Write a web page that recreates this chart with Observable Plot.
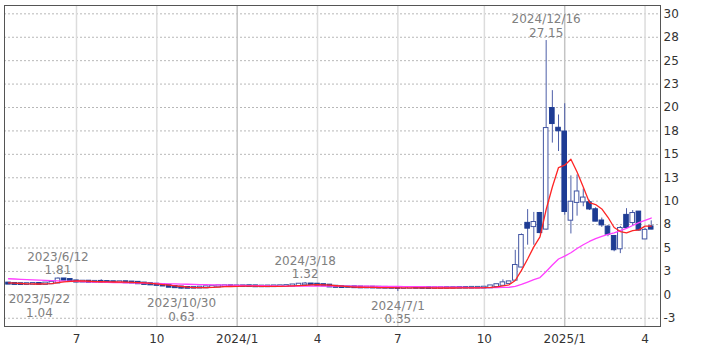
<!DOCTYPE html>
<html><head><meta charset="utf-8">
<script src="https://cdn.jsdelivr.net/npm/d3@7"></script>
<script src="https://cdn.jsdelivr.net/npm/@observablehq/plot@0.6"></script>
<style>
html,body{margin:0;padding:0;background:#fff;}
#chart svg{display:block;}
</style></head><body><div id="chart"></div>
<script>
// Weekly candles (week starting Monday)
const weeks = [
"2023-04-17","2023-04-24","2023-05-01","2023-05-08","2023-05-15","2023-05-22","2023-05-29",
"2023-06-05","2023-06-12","2023-06-19","2023-06-26","2023-07-03","2023-07-10","2023-07-17",
"2023-07-24","2023-07-31","2023-08-07","2023-08-14","2023-08-21","2023-08-28","2023-09-04",
"2023-09-11","2023-09-18","2023-09-25","2023-10-02","2023-10-09","2023-10-16","2023-10-23",
"2023-10-30","2023-11-06","2023-11-13","2023-11-20","2023-11-27","2023-12-04","2023-12-11",
"2023-12-18","2023-12-25","2024-01-01","2024-01-08","2024-01-15","2024-01-22","2024-01-29",
"2024-02-05","2024-02-12","2024-02-19","2024-02-26","2024-03-04","2024-03-11","2024-03-18",
"2024-03-25","2024-04-01","2024-04-08","2024-04-15","2024-04-22","2024-04-29","2024-05-06",
"2024-05-13","2024-05-20","2024-05-27","2024-06-03","2024-06-10","2024-06-17","2024-06-24",
"2024-07-01","2024-07-08","2024-07-15","2024-07-22","2024-07-29","2024-08-05","2024-08-12",
"2024-08-19","2024-08-26","2024-09-02","2024-09-09","2024-09-16","2024-09-23","2024-09-30",
"2024-10-07","2024-10-14","2024-10-21","2024-10-28","2024-11-04","2024-11-11","2024-11-18",
"2024-11-25","2024-12-02","2024-12-09","2024-12-16","2024-12-23","2024-12-30","2025-01-06",
"2025-01-13","2025-01-20","2025-01-27","2025-02-03","2025-02-10","2025-02-17","2025-02-24",
"2025-03-03","2025-03-10","2025-03-17","2025-03-24","2025-03-31","2025-04-07","2025-04-14"];

const open = [
1.22,1.18,1.15,1.14,1.16,1.18,1.15,1.22,1.30,1.66,1.60,1.45,1.40,1.42,1.38,1.40,1.38,1.36,1.35,1.36,
1.33,1.30,1.22,1.15,1.10,1.05,0.98,0.85,0.80,0.75,0.74,0.76,0.78,0.82,0.88,0.92,0.93,0.92,0.92,0.93,
0.92,0.90,0.90,0.91,0.92,0.93,0.95,1.02,1.10,1.12,1.10,1.05,1.00,0.88,0.84,0.82,0.82,0.80,0.78,0.78,
0.77,0.76,0.75,0.74,0.72,0.74,0.75,0.74,0.73,0.72,0.72,0.73,0.74,0.74,0.75,0.75,0.76,0.76,0.78,0.92,
1.05,1.25,1.60,3.00,7.60,7.32,8.65,7.05,19.86,17.75,17.35,8.00,9.90,9.95,9.80,9.05,7.85,7.20,6.20,4.95,
8.45,7.75,8.80,6.00,7.22];

const high = [
1.28,1.24,1.19,1.20,1.22,1.22,1.27,1.34,1.81,1.72,1.64,1.50,1.46,1.46,1.44,1.62,1.42,1.40,1.40,1.40,
1.37,1.34,1.26,1.19,1.14,1.08,1.01,0.89,0.83,0.79,0.80,0.82,0.86,0.92,0.96,0.97,0.97,0.96,0.97,0.97,
0.95,0.94,0.95,0.96,0.97,0.99,1.08,1.20,1.32,1.18,1.14,1.08,1.03,0.92,0.88,0.86,0.86,0.84,0.82,0.81,
0.80,0.79,0.78,0.77,0.78,0.79,0.78,0.77,0.76,0.76,0.77,0.78,0.78,0.79,0.79,0.80,0.80,0.82,0.98,1.12,
1.60,1.45,4.75,6.50,9.10,8.80,8.80,27.15,21.80,19.20,20.40,12.70,12.80,11.30,10.10,9.30,8.20,7.40,6.30,7.30,
9.20,9.00,8.90,7.10,7.90];

const low = [
1.13,1.11,1.10,1.10,1.12,1.04,1.12,1.18,1.26,1.54,1.40,1.36,1.36,1.34,1.34,1.34,1.32,1.31,1.31,1.29,
1.26,1.18,1.11,1.06,1.00,0.93,0.80,0.75,0.63,0.70,0.71,0.73,0.75,0.79,0.85,0.89,0.88,0.88,0.89,0.88,
0.86,0.86,0.87,0.88,0.89,0.90,0.92,0.98,1.05,1.06,1.01,0.96,0.84,0.80,0.78,0.78,0.76,0.74,0.74,0.73,
0.72,0.71,0.70,0.35,0.69,0.71,0.70,0.69,0.68,0.68,0.69,0.70,0.70,0.71,0.71,0.72,0.72,0.73,0.76,0.89,
1.02,1.20,1.50,2.90,5.30,5.30,6.50,6.90,16.20,15.30,8.50,6.50,8.40,9.40,9.00,7.80,7.20,6.20,4.60,4.40,
7.00,7.40,6.80,5.90,6.95];

const close = [
1.18,1.15,1.14,1.16,1.18,1.15,1.22,1.30,1.65,1.60,1.45,1.40,1.42,1.38,1.40,1.38,1.36,1.35,1.36,1.33,
1.30,1.22,1.15,1.10,1.05,0.98,0.85,0.80,0.75,0.74,0.76,0.78,0.82,0.88,0.92,0.93,0.92,0.92,0.93,0.92,
0.90,0.90,0.91,0.92,0.93,0.95,1.02,1.10,1.12,1.10,1.05,1.00,0.88,0.84,0.82,0.82,0.80,0.78,0.78,0.77,
0.76,0.75,0.74,0.72,0.74,0.75,0.74,0.73,0.72,0.72,0.73,0.74,0.74,0.75,0.75,0.76,0.76,0.78,0.92,1.05,
1.25,1.35,3.10,6.30,7.15,7.69,6.68,17.72,18.32,17.55,8.93,9.85,10.95,10.30,9.20,7.90,7.50,6.50,4.85,7.05,
7.22,8.65,6.95,6.85,7.05];

// 5-week moving average (red)
const ma5 = [
1.28,1.25,1.21,1.18,1.16,1.16,1.17,1.20,1.30,1.38,1.44,1.48,1.50,1.45,1.41,1.40,1.39,1.37,1.37,1.36,
1.34,1.31,1.27,1.22,1.16,1.10,1.03,0.96,0.89,0.82,0.78,0.77,0.77,0.80,0.83,0.87,0.89,0.91,0.92,0.92,
0.92,0.91,0.91,0.91,0.91,0.92,0.95,0.98,1.02,1.06,1.08,1.07,1.03,0.97,0.92,0.87,0.83,0.81,0.80,0.79,
0.78,0.77,0.76,0.75,0.74,0.74,0.74,0.74,0.74,0.73,0.73,0.73,0.73,0.74,0.74,0.75,0.75,0.76,0.79,0.85,
0.95,1.07,1.53,2.61,3.83,5.12,6.18,9.11,11.51,13.59,13.84,14.47,13.12,11.52,9.85,9.64,9.17,8.28,7.19,6.76,
6.62,6.85,6.94,7.34,7.34];

// 26-week moving average (magenta)
const ma26 = [
1.72,1.69,1.66,1.63,1.60,1.57,1.54,1.51,1.49,1.47,1.45,1.43,1.41,1.39,1.37,1.35,1.33,1.31,1.30,1.28,
1.27,1.25,1.24,1.22,1.21,1.19,1.18,1.16,1.15,1.13,1.12,1.10,1.09,1.07,1.06,1.04,1.03,1.01,1.00,0.99,
0.98,0.97,0.96,0.95,0.94,0.93,0.92,0.92,0.92,0.92,0.92,0.92,0.92,0.92,0.92,0.92,0.92,0.92,0.92,0.92,
0.91,0.91,0.90,0.89,0.88,0.88,0.87,0.87,0.86,0.85,0.84,0.83,0.82,0.81,0.80,0.78,0.77,0.76,0.77,0.77,
0.79,0.81,0.90,1.11,1.36,1.62,1.85,2.50,3.18,3.83,4.14,4.49,4.95,5.35,5.70,6.00,6.25,6.45,6.62,6.85,
7.10,7.40,7.70,7.95,8.20];

// Axis ticks
const xTickWeeks  = ["2023-07-03","2023-10-02","2024-01-01","2024-04-01","2024-07-01","2024-10-07","2025-01-06","2025-04-07"];
const xTickLabels = ["7","10","2024/1","4","7","10","2025/1","4"];
const yTickValues = [-2.5,0,2.5,5,7.5,10,12.5,15,17.5,20,22.5,25,27.5,30];
const yTickLabels = ["-3","0","3","5","8","10","13","15","18","20","23","25","28","30"];

// High / low annotations
const annotWeeks  = ["2023-05-22","2023-06-12","2023-10-30","2024-03-18","2024-07-01","2024-12-16"];
const annotValues = [1.04,1.81,0.63,1.32,0.35,27.15];
const annotKinds  = ["low","high","low","high","low","high"];

const weekIndex = new Map(weeks.map((w, i) => [w, i]));
const rows = weeks.map((w, i) => ({
  i, week: w, open: open[i], high: high[i], low: low[i], close: close[i],
  ma5: ma5[i], ma26: ma26[i], up: close[i] >= open[i]
}));
const fmtDate = s => { const [y, m, d] = s.split("-"); return `${+y}/${+m}/${+d}`; };
const annots = annotWeeks.map((w, k) => ({
  i: weekIndex.get(w), v: annotValues[k], kind: annotKinds[k],
  label: fmtDate(w) + "\n" + annotValues[k].toFixed(2)
}));
const xTickIdx = xTickWeeks.map(w => weekIndex.get(w));
const xLabelMap = new Map(xTickIdx.map((t, k) => [t, xTickLabels[k]]));
const yLabelMap = new Map(yTickValues.map((t, k) => [t, yTickLabels[k]]));
const yearTicks = xTickIdx.filter((t, k) => xTickLabels[k].includes("/"));
const monthTicks = xTickIdx.filter((t, k) => !xTickLabels[k].includes("/"));

const wick = "#4d5ea8", dark = "#1e3c94", hollow = "#4356a3";

const chart = Plot.plot({
  width: 709, height: 354,
  marginLeft: 4, marginRight: 49, marginTop: 5, marginBottom: 28,
  style: {fontFamily: "'DejaVu Sans', Verdana, sans-serif", fontSize: "12px", background: "#fff", color: "#333"},
  x: {type: "linear", domain: [-0.65, 105.5]},
  y: {domain: [-3.38, 30.89]},
  marks: [
    Plot.gridY(yTickValues, {stroke: "#b8b8b8", strokeOpacity: 1, strokeDasharray: "2,2"}),
    Plot.gridX(monthTicks, {stroke: "#dcdcdc", strokeOpacity: 1, strokeWidth: 1.5}),
    Plot.gridX(yearTicks, {stroke: "#c4c4c4", strokeOpacity: 1, strokeWidth: 1.5}),
    Plot.axisX(xTickIdx, {tickSize: 0, tickPadding: 8, tickFormat: d => xLabelMap.get(d), label: null, fill: "#333", fontSize: 12}),
    Plot.axisY(yTickValues, {anchor: "right", tickSize: 0, tickPadding: 3, tickFormat: d => yLabelMap.get(d), label: null, fill: "#333", fontSize: 12}),
    Plot.ruleX(rows, {x: "i", y1: "low", y2: "high", stroke: wick, strokeWidth: 1}),
    Plot.rect(rows.filter(d => !d.up), {x1: d => d.i - 0.37, x2: d => d.i + 0.37, y1: "open", y2: "close", insetTop: -0.8, insetBottom: -0.8, fill: dark, stroke: dark, strokeWidth: 1}),
    Plot.rect(rows.filter(d => d.up), {x1: d => d.i - 0.37, x2: d => d.i + 0.37, y1: "open", y2: "close", insetTop: -0.8, insetBottom: -0.8, fill: "#fff", stroke: hollow, strokeWidth: 1}),
    Plot.line(rows, {x: "i", y: "ma26", stroke: "#ff40ff", strokeWidth: 1.3}),
    Plot.line(rows, {x: "i", y: "ma5", stroke: "#ff2424", strokeWidth: 1.3}),
    Plot.text(annots.filter(d => d.kind === "high"), {x: "i", y: "v", text: "label", lineAnchor: "bottom", dy: -4, lineHeight: 1.1, fill: "#808080", fontSize: 12}),
    Plot.text(annots.filter(d => d.kind === "low"), {x: "i", y: "v", text: "label", lineAnchor: "top", dy: 9, lineHeight: 1.1, fill: "#808080", fontSize: 12}),
    Plot.frame({stroke: "#555"})
  ]
});
document.getElementById("chart").appendChild(chart);
</script>
</body></html>
